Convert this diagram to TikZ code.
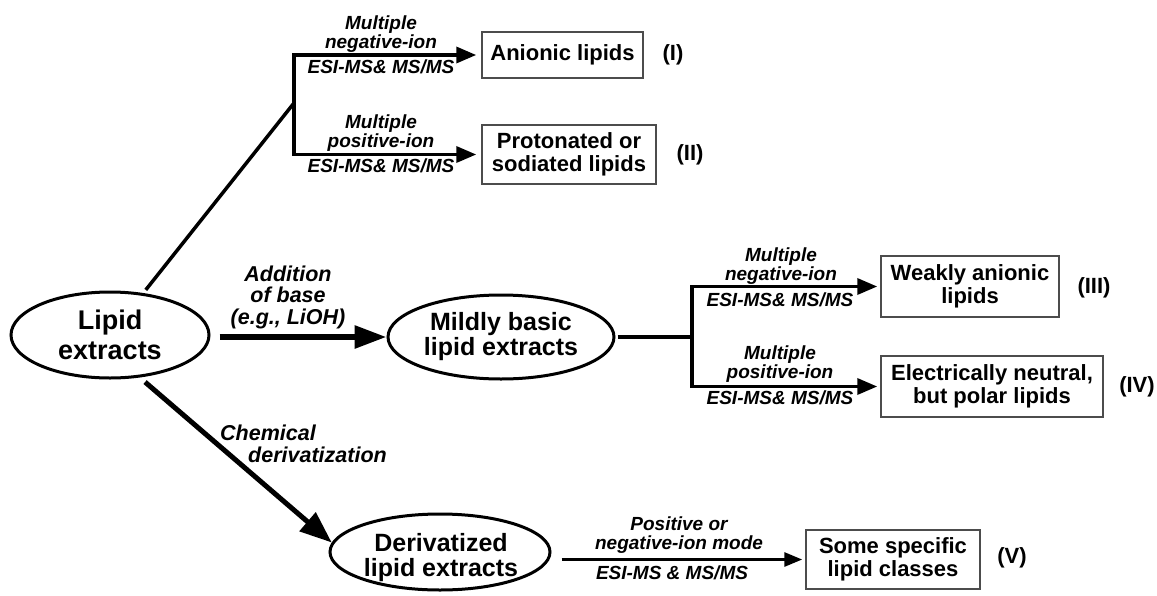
\documentclass[tikz,border=0pt]{standalone}
\usepackage{fontspec}
\setmainfont{Liberation Sans}
\usetikzlibrary{arrows.meta,shapes.geometric,calc}
\begin{document}
\begin{tikzpicture}[x=1pt,y=-1pt,
  oval/.style={ellipse,draw,line width=3pt,inner sep=0pt,align=center,font=\bfseries\fontsize{25}{25}\selectfont},
  box/.style={rectangle,draw=black!70,line width=1.5pt,inner sep=0pt,align=center,font=\bfseries\fontsize{22}{23}\selectfont},
  numlab/.style={font=\bfseries\fontsize{22}{23}\selectfont,inner sep=0pt},
  lab/.style={font=\bfseries\itshape\fontsize{19}{19}\selectfont,align=center,inner sep=0pt},
  biglab/.style={font=\bfseries\itshape\fontsize{21.5}{21.5}\selectfont,align=center,inner sep=0pt},
  brk/.style={line width=3.5pt},
  brkarrow/.style={line width=3.5pt,-{Triangle[length=20pt,width=16pt]}},
  bigarrow/.style={line width=6pt,-{Triangle[length=32pt,width=22pt]}},
  derivarrow/.style={line width=5pt,-{Triangle[length=32pt,width=24pt]}},
  thinarrow/.style={line width=3pt,-{Triangle[length=18pt,width=14pt]}}
]
\useasboundingbox (0,0) rectangle (1157,595);
\fill[white] (0,0) rectangle (1157,595);

% main ovals
\node[oval,minimum width=198pt,minimum height=86pt,font=\bfseries\fontsize{27}{30}\selectfont] (lipid) at (110,335) {Lipid\\extracts};
\node[oval,minimum width=226pt,minimum height=84pt] (mild) at (501,337) {Mildly basic\\lipid extracts};
\node[ellipse,draw,line width=3pt,minimum width=220pt,minimum height=76pt] (deriv) at (440,552) {};
\node[font=\bfseries\fontsize{25}{25}\selectfont,align=center,inner sep=0pt] (derivtext) at (441,558) {Derivatized\\lipid extracts};

% boxes
\node[box,minimum width=161pt,minimum height=46pt] (b1) at (562.5,55) {Anionic lipids};
\node[box,minimum width=174pt,minimum height=59pt] (b2) at (569,154.5) {Protonated or\\sodiated lipids};
\node[box,minimum width=178pt,minimum height=61pt] (b3) at (970,286.5) {Weakly anionic\\lipids};
\node[box,minimum width=222pt,minimum height=61pt] (b4) at (992,386.5) {Electrically neutral,\\but polar lipids};
\node[box,minimum width=174pt,minimum height=59pt] (b5) at (893,559.5) {Some specific\\lipid classes};

% numerals
\node[numlab] (n1) at (673,55) {(I)};
\node[numlab] (n2) at (690,155) {(II)};
\node[numlab] (n3) at (1094,288) {(III)};
\node[numlab] (n4) at (1137,387) {(IV)};
\node[numlab] (n5) at (1012,558) {(V)};

% junctions
\coordinate (j1) at (294,103);
\coordinate (j2) at (692,337);

% connectors
\draw[brk,shorten <=4pt] (lipid) -- (j1);
\draw[brkarrow] (j1) |- ([xshift=-5pt]b1.west);
\draw[brkarrow] (j1) |- ([xshift=-5pt]b2.west);
\draw[bigarrow] ($(lipid.east |- mild.west)+(9,0)$) -- (mild.west);
\draw[brk,shorten <=2pt] (mild.east) -- (j2);
\draw[brkarrow] (j2) |- ([xshift=-3pt]b3.west);
\draw[brkarrow] (j2) |- ([xshift=-3pt]b4.west);
\draw[derivarrow,shorten <=7pt] (lipid.-55) -- (deriv.175);
\draw[thinarrow] ($(deriv.east |- b5.west)+(10,0)$) -- ([xshift=-3pt]b5.west);

% labels
\node[lab] (l1a) at (381,34) {Multiple\\negative-ion};
\node[lab] (l1b) at (381,67) {ESI-MS\& MS/MS};
\node[lab] (l2a) at (381,133) {Multiple\\positive-ion};
\node[lab] (l2b) at (381,166) {ESI-MS\& MS/MS};
\node[biglab] (l0) at (288,297) {Addition\\of base\\(e.g., LiOH)};
\node[lab] (l3a) at (781,266) {Multiple\\negative-ion};
\node[lab] (l3b) at (780,300) {ESI-MS\& MS/MS};
\node[lab] (l4a) at (780,364) {Multiple\\positive-ion};
\node[lab] (l4b) at (780,398) {ESI-MS\& MS/MS};
\node[biglab,anchor=west] (c1) at (220,433) {Chemical};
\node[biglab,anchor=west] (c2) at (248,455) {derivatization};
\node[lab] (l5a) at (679,535) {Positive or\\negative-ion mode};
\node[lab] (l5b) at (672,573) {ESI-MS \& MS/MS};
\end{tikzpicture}
\end{document}
